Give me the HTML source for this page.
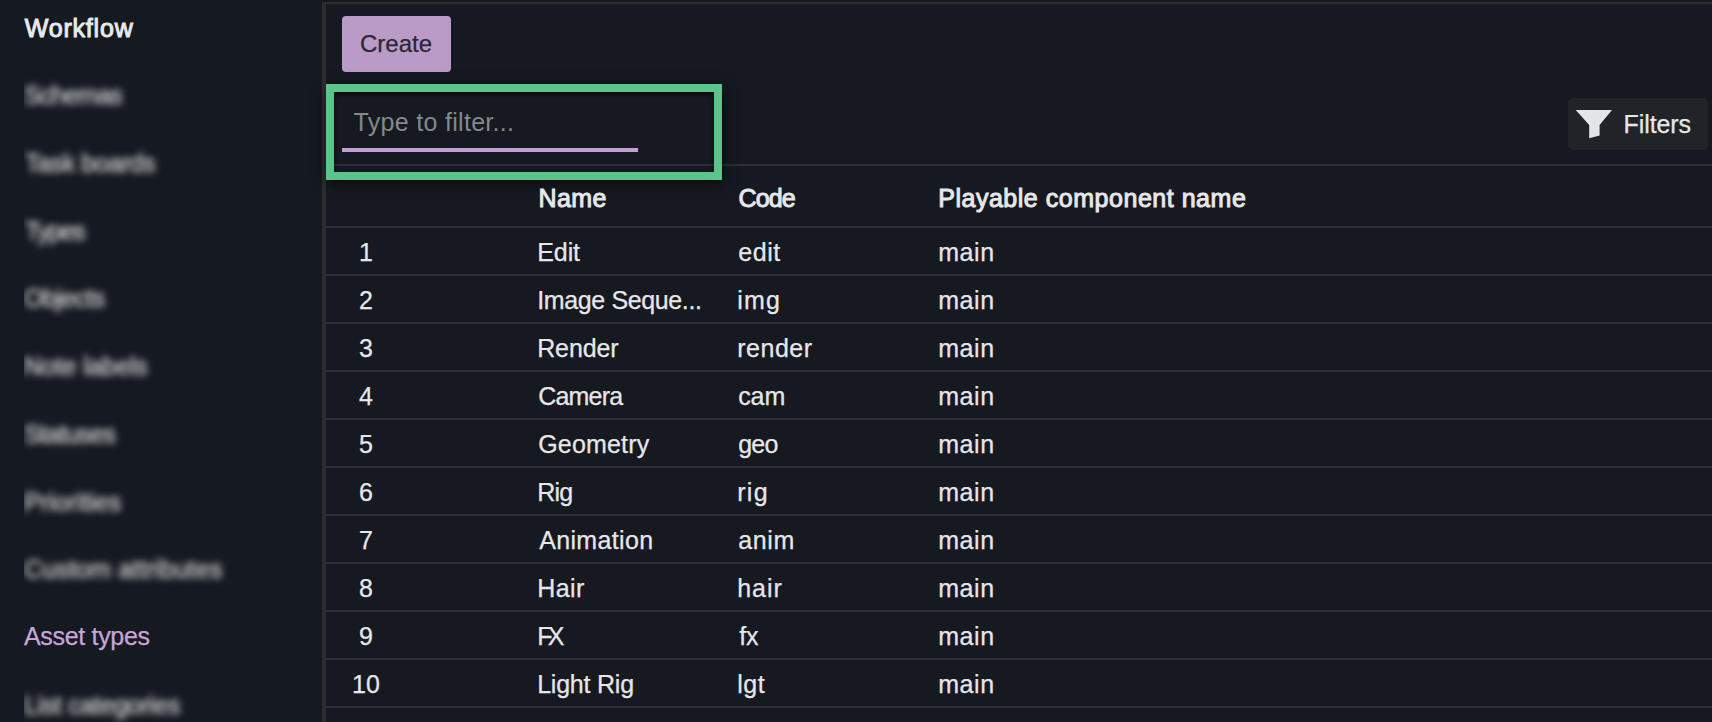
<!DOCTYPE html>
<html><head><meta charset="utf-8"><style>
html,body{margin:0;padding:0;width:1712px;height:722px;overflow:hidden;background:#161920;}
body{position:relative;font-family:"Liberation Sans",sans-serif;}
.t{position:absolute;white-space:nowrap;font-size:25px;line-height:25px;color:#e6e7e9;-webkit-text-stroke:0.25px currentColor;}
.b{font-weight:normal;-webkit-text-stroke:1px currentColor;}
.clip{position:absolute;overflow:hidden;}
.blur{color:#cdd0d3;filter:blur(3.7px);-webkit-text-stroke:0.6px #cdd0d3;}
.hl{position:absolute;left:326px;right:0;height:2px;background:#2b2e36;}
</style></head><body>
<div style="position:absolute;left:0;top:0;width:322px;height:722px;background:#151920"></div>
<div style="position:absolute;left:322px;top:2px;width:4px;height:720px;background:#2a2e33"></div>
<div style="position:absolute;left:320px;top:0;right:0;height:2px;background:#141a1b"></div>
<div style="position:absolute;left:322px;top:2px;right:0;height:2px;background:#2a2d35"></div>

<div id="workflow" class="t b" style="left:24.80px;top:16.00px;letter-spacing:0.800px;color:#e8e9eb">Workflow</div>
<div class="clip" style="left:24px;top:77.30px;width:260px;height:38px"><div class="t blur" style="left:0.00px;top:6px;letter-spacing:-0.900px">Schemas</div></div>
<div class="clip" style="left:24px;top:145.00px;width:260px;height:38px"><div class="t blur" style="left:1.00px;top:6px;letter-spacing:-0.420px">Task boards</div></div>
<div class="clip" style="left:24px;top:212.70px;width:260px;height:38px"><div class="t blur" style="left:1.00px;top:6px;letter-spacing:-1.500px">Types</div></div>
<div class="clip" style="left:24px;top:280.40px;width:260px;height:38px"><div class="t blur" style="left:0.00px;top:6px;letter-spacing:-0.567px">Objects</div></div>
<div class="clip" style="left:24px;top:348.10px;width:260px;height:38px"><div class="t blur" style="left:0.00px;top:6px;letter-spacing:-0.120px">Note labels</div></div>
<div class="clip" style="left:24px;top:415.80px;width:260px;height:38px"><div class="t blur" style="left:0.00px;top:6px;letter-spacing:-0.771px">Statuses</div></div>
<div class="clip" style="left:24px;top:483.50px;width:260px;height:38px"><div class="t blur" style="left:0.00px;top:6px;letter-spacing:0.000px">Priorities</div></div>
<div class="clip" style="left:24px;top:551.20px;width:260px;height:38px"><div class="t blur" style="left:0.00px;top:6px;letter-spacing:0.162px">Custom attributes</div></div>
<div id="asset" class="t" style="left:24.00px;top:623.90px;letter-spacing:-0.320px;color:#c8a5d6">Asset types</div>
<div class="clip" style="left:24px;top:686.60px;width:260px;height:38px"><div class="t blur" style="left:0.00px;top:6px;letter-spacing:-0.343px">List categories</div></div>
<div style="position:absolute;left:342px;top:16px;width:109px;height:56px;border-radius:4px;background:#ba9bc7"></div>
<div id="create" class="t" style="left:360.00px;top:30.80px;letter-spacing:0.000px;font-size:24px;color:#2b2733">Create</div>
<div class="hl" style="top:164px"></div>
<div class="hl" style="top:226px"></div>
<div class="hl" style="top:274px"></div>
<div class="hl" style="top:322px"></div>
<div class="hl" style="top:370px"></div>
<div class="hl" style="top:418px"></div>
<div class="hl" style="top:466px"></div>
<div class="hl" style="top:514px"></div>
<div class="hl" style="top:562px"></div>
<div class="hl" style="top:610px"></div>
<div class="hl" style="top:658px"></div>
<div class="hl" style="top:706px"></div>
<div class="hl" style="top:754px"></div>
<div id="ph" class="t" style="left:353.60px;top:110.00px;letter-spacing:0.300px;color:#85888c;-webkit-text-stroke:0">Type to filter...</div>
<div style="position:absolute;left:342px;top:148px;width:296px;height:4px;background:#c3a0d3"></div>
<div style="position:absolute;left:326px;top:84px;width:380px;height:80px;border:8px solid #5bc48b;box-shadow:1px 3px 12px rgba(0,0,0,0.6), inset 0 3px 5px rgba(0,0,0,0.5)"></div>
<div style="position:absolute;left:1568px;top:98px;width:140px;height:52px;border-radius:5px;background:#202428"></div>
<svg style="position:absolute;left:1575px;top:109px" width="38" height="30" viewBox="0 0 38 30"><path d="M0.7 1 L37 1 L24.6 16 L24.6 26.6 L14.2 29.2 L14.2 16 Z" fill="#e4e5e7"/></svg>
<div id="filters" class="t" style="left:1623.60px;top:112.00px;letter-spacing:-0.100px;">Filters</div>
<div id="hname" class="t b" style="left:538.40px;top:186.00px;letter-spacing:0.467px;">Name</div>
<div id="hcode" class="t b" style="left:738.60px;top:186.00px;letter-spacing:-0.867px;">Code</div>
<div id="hplay" class="t b" style="left:938.20px;top:186.00px;letter-spacing:0.527px;">Playable component name</div>
<div class="t" style="left:326px;width:80px;text-align:center;top:240px">1</div>
<div id="name0" class="t" style="left:537.20px;top:240.00px;letter-spacing:-0.067px;">Edit</div>
<div id="code0" class="t" style="left:738.20px;top:240.00px;letter-spacing:0.600px;">edit</div>
<div id="main0" class="t" style="left:938.20px;top:240.00px;letter-spacing:0.600px;">main</div>
<div class="t" style="left:326px;width:80px;text-align:center;top:288px">2</div>
<div id="name1" class="t" style="left:537.20px;top:288.00px;letter-spacing:-0.369px;">Image Seque...</div>
<div id="code1" class="t" style="left:737.20px;top:288.00px;letter-spacing:1.200px;">img</div>
<div id="main1" class="t" style="left:938.20px;top:288.00px;letter-spacing:0.600px;">main</div>
<div class="t" style="left:326px;width:80px;text-align:center;top:336px">3</div>
<div id="name2" class="t" style="left:537.20px;top:336.00px;letter-spacing:-0.120px;">Render</div>
<div id="code2" class="t" style="left:737.20px;top:336.00px;letter-spacing:0.520px;">render</div>
<div id="main2" class="t" style="left:938.20px;top:336.00px;letter-spacing:0.600px;">main</div>
<div class="t" style="left:326px;width:80px;text-align:center;top:384px">4</div>
<div id="name3" class="t" style="left:538.20px;top:384.00px;letter-spacing:-0.800px;">Camera</div>
<div id="code3" class="t" style="left:738.20px;top:384.00px;letter-spacing:-0.100px;">cam</div>
<div id="main3" class="t" style="left:938.20px;top:384.00px;letter-spacing:0.600px;">main</div>
<div class="t" style="left:326px;width:80px;text-align:center;top:432px">5</div>
<div id="name4" class="t" style="left:538.20px;top:432.00px;letter-spacing:0.171px;">Geometry</div>
<div id="code4" class="t" style="left:738.20px;top:432.00px;letter-spacing:-0.800px;">geo</div>
<div id="main4" class="t" style="left:938.20px;top:432.00px;letter-spacing:0.600px;">main</div>
<div class="t" style="left:326px;width:80px;text-align:center;top:480px">6</div>
<div id="name5" class="t" style="left:537.20px;top:480.00px;letter-spacing:-0.800px;">Rig</div>
<div id="code5" class="t" style="left:737.20px;top:480.00px;letter-spacing:1.300px;">rig</div>
<div id="main5" class="t" style="left:938.20px;top:480.00px;letter-spacing:0.600px;">main</div>
<div class="t" style="left:326px;width:80px;text-align:center;top:528px">7</div>
<div id="name6" class="t" style="left:539.20px;top:528.00px;letter-spacing:0.350px;">Animation</div>
<div id="code6" class="t" style="left:738.20px;top:528.00px;letter-spacing:0.667px;">anim</div>
<div id="main6" class="t" style="left:938.20px;top:528.00px;letter-spacing:0.600px;">main</div>
<div class="t" style="left:326px;width:80px;text-align:center;top:576px">8</div>
<div id="name7" class="t" style="left:537.20px;top:576.00px;letter-spacing:0.400px;">Hair</div>
<div id="code7" class="t" style="left:737.20px;top:576.00px;letter-spacing:1.000px;">hair</div>
<div id="main7" class="t" style="left:938.20px;top:576.00px;letter-spacing:0.600px;">main</div>
<div class="t" style="left:326px;width:80px;text-align:center;top:624px">9</div>
<div id="name8" class="t" style="left:537.20px;top:624.00px;letter-spacing:-4.600px;">FX</div>
<div id="code8" class="t" style="left:739.20px;top:624.00px;letter-spacing:-0.200px;">fx</div>
<div id="main8" class="t" style="left:938.20px;top:624.00px;letter-spacing:0.600px;">main</div>
<div class="t" style="left:326px;width:80px;text-align:center;top:672px">10</div>
<div id="name9" class="t" style="left:537.20px;top:672.00px;letter-spacing:-0.225px;">Light Rig</div>
<div id="code9" class="t" style="left:737.20px;top:672.00px;letter-spacing:0.600px;">lgt</div>
<div id="main9" class="t" style="left:938.20px;top:672.00px;letter-spacing:0.600px;">main</div>
</body></html>
